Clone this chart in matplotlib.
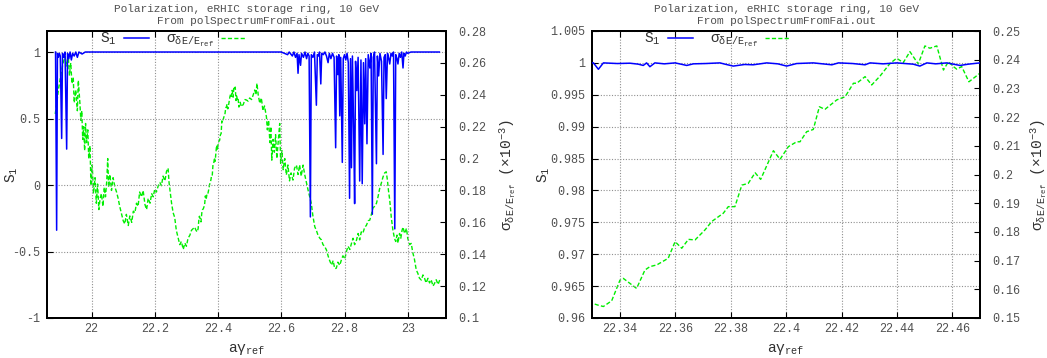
import numpy as np
import matplotlib
matplotlib.use("Agg")
import matplotlib.pyplot as plt
from matplotlib.ticker import FixedLocator, FuncFormatter

plt.rcParams['font.family'] = ['Liberation Mono', 'DejaVu Sans']
plt.rcParams['mathtext.fontset'] = 'custom'
plt.rcParams['mathtext.rm'] = 'Liberation Mono'
plt.rcParams['mathtext.it'] = 'Liberation Mono'
plt.rcParams['mathtext.default'] = 'rm'

# ---------------- data ----------------
title_text = "Polarization, eRHIC storage ring, 10 GeV\nFrom polSpectrumFromFai.out"

# sigma_{dE/E} (x1e-3), low-tune part
sig_x_a = [21.885, 21.890, 21.895, 21.900, 21.905, 21.910, 21.916, 21.920, 21.926, 21.930,
           21.934, 21.938, 21.942, 21.945, 21.950, 21.955, 21.958, 21.963, 21.966, 21.969,
           21.972, 21.975, 21.978, 21.981, 21.984, 21.988, 21.991, 21.995, 21.998, 22.002,
           22.006, 22.011, 22.015, 22.019, 22.023, 22.027, 22.031, 22.036, 22.040, 22.044,
           22.048, 22.051, 22.054, 22.058, 22.063, 22.068, 22.074, 22.079, 22.084, 22.089,
           22.095, 22.100, 22.105, 22.110, 22.116, 22.121, 22.127, 22.132, 22.137, 22.142,
           22.147, 22.152, 22.158, 22.163, 22.169, 22.174, 22.179, 22.185, 22.190, 22.195,
           22.200, 22.205, 22.211, 22.216, 22.221, 22.226, 22.232, 22.237, 22.242, 22.245,
           22.248, 22.253, 22.258, 22.263, 22.268, 22.274, 22.279, 22.284, 22.290, 22.295,
           22.300, 22.305, 22.311, 22.316, 22.321, 22.326]
sig_a = [0.228, 0.235, 0.243, 0.249, 0.255, 0.260, 0.264, 0.258, 0.265, 0.252,
         0.260, 0.247, 0.251, 0.235, 0.243, 0.230, 0.249, 0.235, 0.224, 0.230,
         0.212, 0.220, 0.205, 0.222, 0.210, 0.218, 0.200, 0.208, 0.183, 0.196,
         0.178, 0.188, 0.172, 0.184, 0.168, 0.175, 0.178, 0.170, 0.182, 0.176,
         0.186, 0.200, 0.182, 0.190, 0.180, 0.188, 0.182, 0.179, 0.175, 0.170,
         0.165, 0.161, 0.159, 0.165, 0.158, 0.164, 0.160, 0.167, 0.166, 0.172,
         0.170, 0.179, 0.176, 0.180, 0.171, 0.168, 0.175, 0.172, 0.178, 0.176,
         0.181, 0.179, 0.183, 0.185, 0.183, 0.189, 0.186, 0.192, 0.194, 0.185,
         0.180, 0.172, 0.166, 0.163, 0.155, 0.150, 0.146, 0.148, 0.143, 0.147,
         0.145, 0.150, 0.152, 0.155, 0.156, 0.157]

# sigma, zoomed window (22.33 - 22.47)
sig_x_zoom = [22.3301, 22.3320, 22.3340, 22.3370, 22.3400, 22.3412, 22.3460, 22.3490, 22.3508, 22.3533,
              22.3574, 22.3599, 22.3623, 22.3647, 22.3671, 22.3707, 22.3731, 22.3773, 22.3791, 22.3815,
              22.3840, 22.3863, 22.3888, 22.3908, 22.3954, 22.3978, 22.4008, 22.4038, 22.4050, 22.4074,
              22.4098, 22.4120, 22.4140, 22.4183, 22.4213, 22.4243, 22.4255, 22.4285, 22.4309, 22.4339,
              22.4375, 22.4399, 22.4423, 22.4447, 22.4477, 22.4501, 22.4519, 22.4544, 22.4568, 22.4586,
              22.4604, 22.4616, 22.4634, 22.4660, 22.4700]
sig_zoom = [0.1551, 0.1545, 0.1540, 0.1560, 0.1632, 0.1638, 0.1603, 0.1667, 0.1679, 0.1685,
            0.1708, 0.1766, 0.1743, 0.1774, 0.1772, 0.1807, 0.1836, 0.1865, 0.1888, 0.1888,
            0.1963, 0.1969, 0.2006, 0.1983, 0.2083, 0.2053, 0.2097, 0.2114, 0.2114, 0.2149,
            0.2157, 0.2236, 0.2227, 0.2260, 0.2271, 0.2318, 0.2318, 0.2341, 0.2312, 0.2343,
            0.2387, 0.2405, 0.2390, 0.2428, 0.2385, 0.2448, 0.2440, 0.2448, 0.2364, 0.2393,
            0.2376, 0.2367, 0.2376, 0.2323, 0.2353]

# sigma, high-tune part
sig_x_b = [22.474, 22.480, 22.485, 22.490, 22.495, 22.500, 22.506, 22.511, 22.516, 22.520,
           22.523, 22.527, 22.532, 22.537, 22.542, 22.547, 22.553, 22.556, 22.560, 22.564,
           22.567, 22.570, 22.574, 22.578, 22.582, 22.586, 22.590, 22.595, 22.598, 22.602,
           22.606, 22.611, 22.616, 22.621, 22.626, 22.631, 22.637, 22.642, 22.648, 22.653,
           22.658, 22.663, 22.669, 22.674, 22.680, 22.685, 22.690, 22.695, 22.700, 22.706,
           22.711, 22.716, 22.722, 22.727, 22.732, 22.737, 22.743, 22.748, 22.753, 22.759,
           22.764, 22.769, 22.774, 22.779, 22.785, 22.790, 22.795, 22.801, 22.806, 22.811,
           22.817, 22.822, 22.827, 22.832, 22.838, 22.843, 22.848, 22.853, 22.858, 22.864,
           22.869, 22.875, 22.880, 22.885, 22.890, 22.895, 22.901, 22.906, 22.911, 22.917,
           22.922, 22.927, 22.932, 22.936, 22.939, 22.943, 22.948, 22.953, 22.958, 22.962,
           22.966, 22.969, 22.974, 22.978, 22.982, 22.985, 22.990, 22.996, 23.000, 23.006,
           23.011, 23.016, 23.021, 23.027, 23.032, 23.037, 23.043, 23.048, 23.053, 23.058,
           23.064, 23.069, 23.074, 23.080, 23.085, 23.090, 23.096, 23.101]
sig_b = [0.2325, 0.234, 0.237, 0.2367, 0.236, 0.238, 0.237, 0.2398, 0.243, 0.240,
         0.2472, 0.240, 0.2346, 0.238, 0.230, 0.233, 0.2262, 0.218, 0.224, 0.210,
         0.220, 0.199, 0.212, 0.204, 0.215, 0.200, 0.210, 0.222, 0.197, 0.205,
         0.193, 0.200, 0.1897, 0.196, 0.186, 0.191, 0.1865, 0.194, 0.1959, 0.190,
         0.196, 0.189, 0.1959, 0.190, 0.1845, 0.180, 0.176, 0.1719, 0.164, 0.1572,
         0.155, 0.152, 0.150, 0.149, 0.146, 0.145, 0.1426, 0.139, 0.136, 0.1332,
         0.136, 0.131, 0.1312, 0.135, 0.133, 0.1364, 0.139, 0.137, 0.1416, 0.145,
         0.143, 0.1468, 0.150, 0.146, 0.1489, 0.153, 0.149, 0.154, 0.1531, 0.157,
         0.158, 0.161, 0.1614, 0.165, 0.169, 0.170, 0.1719, 0.176, 0.181, 0.185,
         0.1886, 0.191, 0.1917, 0.186, 0.180, 0.174, 0.163, 0.1552, 0.150, 0.148,
         0.152, 0.147, 0.153, 0.150, 0.155, 0.157, 0.153, 0.1562, 0.150, 0.146,
         0.1468, 0.141, 0.137, 0.1301, 0.128, 0.125, 0.1238, 0.127, 0.125, 0.122,
         0.1249, 0.122, 0.124, 0.120, 0.1218, 0.124, 0.121, 0.1238]

# S_1, low-tune part
s1_x_a = [21.886, 21.8895, 21.892, 21.895, 21.898, 21.901, 21.9054, 21.908, 21.912, 21.916,
          21.9212, 21.924, 21.928, 21.932, 21.936, 21.940, 21.945, 21.950, 21.955, 21.960,
          21.970, 21.980, 22.100, 22.200, 22.300]
s1_a = [1.0, -0.34, 0.99, 0.96, 0.99, 0.97, 0.35, 0.99, 0.96, 1.0,
        0.27, 0.99, 0.95, 1.0, 0.94, 0.99, 0.97, 1.0, 0.96, 1.0,
        0.985, 1.0, 1.0, 1.0, 1.0]

# S_1, zoomed window (22.33 - 22.47)
s1_x_zoom = [22.3304, 22.3322, 22.3340, 22.3390, 22.3436, 22.3466, 22.3484, 22.3496, 22.3508, 22.3526,
             22.3560, 22.3599, 22.3641, 22.3665, 22.3710, 22.3761, 22.3779, 22.3809, 22.3850, 22.3881,
             22.3930, 22.3970, 22.4002, 22.4038, 22.4098, 22.4130, 22.4165, 22.4189, 22.4240, 22.4285,
             22.4303, 22.4350, 22.4399, 22.4459, 22.4483, 22.4508, 22.4540, 22.4580, 22.4628, 22.4658,
             22.4700]
s1_zoom = [1.0, 0.9990, 1.0, 0.99990, 0.99995, 0.9998, 0.9996, 1.0, 0.9994, 1.0,
           0.99985, 1.0, 0.9996, 0.99985, 0.99990, 1.0, 0.9998, 0.9995, 0.99975, 0.9997,
           1.0, 0.99985, 0.9995, 0.9999, 1.0, 0.99985, 0.9997, 1.0, 0.9999, 0.9997,
           1.0, 0.99985, 1.0, 0.9998, 0.9995, 1.0, 0.99985, 1.0, 0.9996, 0.9998,
           1.0]

# S_1, high-tune part
s1_x_b = [22.500, 22.600, 22.620, 22.625, 22.635, 22.640, 22.645, 22.650, 22.653, 22.656,
          22.661, 22.664, 22.670, 22.675, 22.680, 22.684, 22.688, 22.692, 22.695, 22.700,
          22.705, 22.711, 22.714, 22.718, 22.721, 22.725, 22.728, 22.733, 22.738, 22.743,
          22.748, 22.752, 22.757, 22.762, 22.767, 22.772, 22.775, 22.779, 22.782, 22.785,
          22.788, 22.793, 22.796, 22.800, 22.804, 22.808, 22.812, 22.816, 22.819, 22.822,
          22.825, 22.829, 22.832, 22.835, 22.839, 22.843, 22.848, 22.852, 22.856, 22.860,
          22.864, 22.867, 22.871, 22.875, 22.880, 22.884, 22.888, 22.891, 22.895, 22.901,
          22.904, 22.908, 22.912, 22.917, 22.922, 22.925, 22.929, 22.932, 22.936, 22.940,
          22.943, 22.947, 22.951, 22.955, 22.959, 22.962, 22.966, 22.969, 22.973, 22.977,
          22.981, 22.985, 22.988, 22.992, 22.996, 23.000, 23.010, 23.100]
s1_b = [1.0, 1.0, 0.98, 1.0, 0.97, 1.0, 0.96, 0.99, 0.84, 0.98,
        0.90, 0.99, 0.96, 1.0, 0.95, 0.99, 0.97, -0.24, 0.98, 0.96,
        1.0, 0.60, 0.98, 0.97, 1.0, 0.76, 0.99, 0.98, 1.0, 0.97,
        0.92, 0.99, 0.95, 0.99, 0.96, 0.28, 0.97, 0.83, 0.98, 0.52,
        0.96, 0.17, 0.95, 0.98, 0.94, 0.99, 0.92, -0.10, 0.95, 0.13,
        0.97, 0.41, -0.14, 0.93, 0.71, 0.96, 0.03, 0.94, 0.01, 0.92,
        0.46, 0.95, 0.31, 0.98, 0.88, 0.99, -0.22, 0.96, 1.0, 0.16,
        0.97, 0.82, 0.99, 0.93, 0.23, 0.96, 0.98, 0.65, 0.99, 0.95,
        0.91, 0.99, 0.97, 1.0, -0.33, 0.98, 0.95, 0.91, 0.99, 0.96,
        1.0, 0.88, 0.99, 0.97, 1.0, 0.99, 1.0, 1.0]

sig_x = sig_x_a + sig_x_zoom + sig_x_b
sig = sig_a + sig_zoom + sig_b
s1_x = s1_x_a + s1_x_zoom + s1_x_b
s1 = s1_a + s1_zoom + s1_b

# ticks
left_xticks = [22, 22.2, 22.4, 22.6, 22.8, 23]
left_yticks = [-1, -0.5, 0, 0.5, 1]
left_y2ticks = [0.1, 0.12, 0.14, 0.16, 0.18, 0.2, 0.22, 0.24, 0.26, 0.28]
right_xticks = [22.34, 22.36, 22.38, 22.4, 22.42, 22.44, 22.46]
right_yticks = [0.96, 0.965, 0.97, 0.975, 0.98, 0.985, 0.99, 0.995, 1, 1.005]
right_y2ticks = [0.15, 0.16, 0.17, 0.18, 0.19, 0.2, 0.21, 0.22, 0.23, 0.24, 0.25]

# ---------------- plotting ----------------
TICKC = '#505050'
LABC = '#303030'
BLUE = '#0000ff'
GREEN = '#00ee00'

fig = plt.figure(figsize=(10.47, 3.58), dpi=100)

def gfmt(v, pos=None):
    return '%g' % round(v, 6)

lab_s1 = r'$\mathrm{S_1}$'
lab_sig = r'$\mathrm{σ_{δE/E_{ref}}}$'
lab_y2 = r'$\mathrm{σ_{δE/E_{ref}}}$ (×10$^{\mathrm{-3}}$)'
lab_x = r'$\mathrm{aγ_{ref}}$'

def make_panel(rect, xlim, ylim, y2lim, xt, yt, y2t, ylab_x, y2lab_x, leg_x):
    ax = fig.add_axes(rect)
    ax2 = ax.twinx()
    l1, = ax.plot(s1_x, s1, color=BLUE, lw=1.1, label=lab_s1, zorder=3)
    l2, = ax2.plot(sig_x, sig, color=GREEN, lw=1.0, ls=(0, (3, 1.6)), label=lab_sig)
    ax.set_xlim(*xlim)
    ax.set_ylim(*ylim)
    ax2.set_ylim(*y2lim)
    ax.xaxis.set_major_locator(FixedLocator(xt))
    ax.yaxis.set_major_locator(FixedLocator(yt))
    ax2.yaxis.set_major_locator(FixedLocator(y2t))
    for a in (ax.xaxis, ax.yaxis, ax2.yaxis):
        a.set_major_formatter(FuncFormatter(gfmt))
    ax.tick_params(axis='x', direction='in', top=True, length=4, width=0.8,
                   labelsize=8.5, colors=TICKC, pad=3.5)
    ax.tick_params(axis='y', direction='in', right=False, length=4, width=0.8,
                   labelsize=8.5, colors=TICKC, pad=5)
    ax2.tick_params(axis='y', direction='in', length=4, width=0.8,
                    labelsize=8.5, colors=TICKC, pad=9)
    ax.tick_params(axis='both', color='black')
    ax2.tick_params(axis='y', color='black')
    ax.grid(True, color='#909090', lw=0.8, ls=(0, (1, 1.5)))
    ax.set_axisbelow(True)
    for sp in list(ax.spines.values()) + list(ax2.spines.values()):
        sp.set_linewidth(1.4)
        sp.set_color('black')
    ax.set_ylabel(lab_s1, fontsize=10.5, color=LABC)
    ax.yaxis.set_label_coords(ylab_x, 0.5)
    ax2.set_ylabel(lab_y2, fontsize=10.5, color=LABC, rotation=90)
    ax2.yaxis.set_label_coords(y2lab_x, 0.5)
    ax.set_xlabel(lab_x, fontsize=10.5, color=LABC)
    ax.xaxis.set_label_coords(0.5, -0.085)
    ax.set_title(title_text, fontsize=8, color=TICKC, linespacing=1.2, pad=5)
    leg = ax.legend([l1, l2], [lab_s1, lab_sig], ncol=2, markerfirst=False,
                    loc='upper left', bbox_to_anchor=(leg_x, 1.02), frameon=False,
                    fontsize=10.5, handlelength=1.7, handletextpad=0.5,
                    columnspacing=1.2, borderaxespad=0)
    for t in leg.get_texts():
        t.set_color(LABC)
    ax2.set_zorder(1)
    ax.set_zorder(2)
    ax.patch.set_visible(False)
    return ax, ax2

make_panel([47 / 1047, 1 - 318 / 358, 399 / 1047, 287 / 358],
           (21.859, 23.121), (-1, 1.158), (0.1, 0.28),
           left_xticks, left_yticks, left_y2ticks, -0.068, 1.128, 0.118)

make_panel([592.3 / 1047, 1 - 318 / 358, 387.7 / 1047, 287 / 358],
           (22.33, 22.47), (0.96, 1.005), (0.15, 0.25),
           right_xticks, right_yticks, right_y2ticks, -0.104, 1.124, 0.118)

fig.savefig('out.png', dpi=100)
